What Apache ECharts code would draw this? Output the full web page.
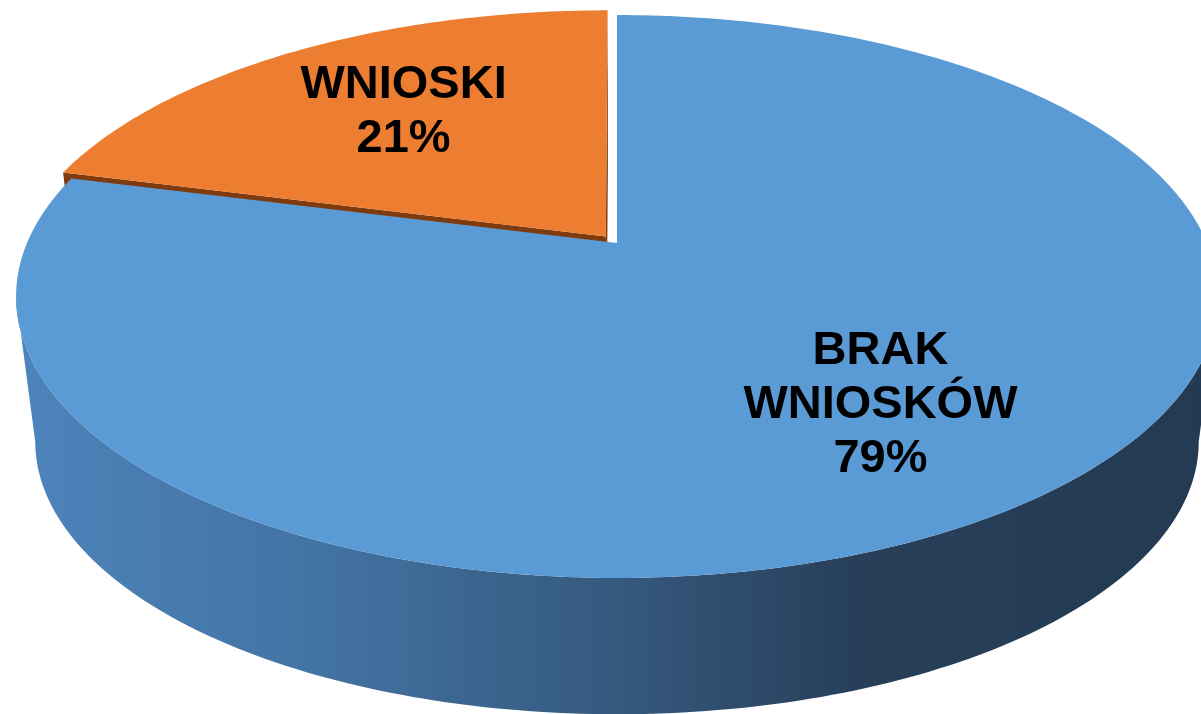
<!DOCTYPE html>
<html>
<head>
<meta charset="utf-8">
<script src="https://cdn.jsdelivr.net/npm/echarts@6/dist/echarts.min.js"></script>
<style>
  html, body { margin: 0; padding: 0; background: #fff; }
  #chart { width: 1201px; height: 714px; }
</style>
</head>
<body>
<div id="chart"></div>
<script>
// dane wykresu
const categories = ['BRAK WNIOSKÓW', 'WNIOSKI'];
const values = [79, 21];
const explode = [0, 0.031];

const topColors = ['#5b9bd5', '#ed7d31'];
const faceColors = ['#2f5378', '#7f3b0e'];
const sideStops = [
  [[0, '#4d84bb'], [0.25, '#4373a3'], [0.5, '#35597e'], [0.7, '#273f59'], [1, '#233a52']],
  [[0, '#c0622a'], [1, '#7f3b0e']],
];
// przesunięcie etykiet w pikselach
const labelShift = [[3, 8], [10, 1]];

// widok 3D (perspektywa jak w Excelu)
const KX = 590, KY = 271.3, C = 0.19;
const DS = 0.968, DROP = 147;
const START = 90;
const LABEL_R = 0.65;

const total = values.reduce((a, b) => a + b, 0);
const slices = [];
let ang = START;
values.forEach((v, i) => {
  const span = v / total * 360;
  const a0 = ang, a1 = ang - span;
  const mid = (a0 + a1) / 2 * Math.PI / 180;
  slices.push({ a0, a1, mid, ox: explode[i] * Math.cos(mid), oy: explode[i] * Math.sin(mid) });
  ang = a1;
});

const project = (X, S, bottom) => {
  const d = 1 + C * S;
  let x = KX * X / d, y = KY * S / d;
  if (bottom) { x *= DS; y = y * DS - DROP; }
  return [x, y];
};

const renderItem = (params, api) => {
  const i = params.dataIndex;
  const sl = slices[i];
  const pt = (deg, r, bottom) => {
    const t = deg * Math.PI / 180;
    return api.coord(project(sl.ox + r * Math.cos(t), sl.oy + r * Math.sin(t), bottom));
  };
  const arc = [];
  for (let a = sl.a0; a > sl.a1; a -= 1) arc.push(a);
  arc.push(sl.a1);

  const children = [];

  // boki przekroju
  [[sl.a0, sl.a0 + 90], [sl.a1, sl.a1 - 90]].forEach(([a, n]) => {
    const nt = n * Math.PI / 180;
    const dot = -sl.ox * Math.cos(nt) + (-1 / C - sl.oy) * Math.sin(nt);
    if (dot > 0.001) {
      children.push({
        type: 'polygon', z2: 1,
        shape: { points: [pt(0, 0, false), pt(a, 1, false), pt(a, 1, true), pt(0, 0, true)] },
        style: { fill: faceColors[i] },
      });
    }
  });

  // zewnętrzna ścianka
  const vis = arc.filter((a) => {
    const t = a * Math.PI / 180;
    return -sl.ox * Math.cos(t) - sl.oy * Math.sin(t) - 1 - Math.sin(t) / C > 0;
  });
  if (vis.length > 1) {
    const pts = vis.map((a) => pt(a, 1, false)).concat(vis.slice().reverse().map((a) => pt(a, 1, true)));
    children.push({
      type: 'polygon', z2: 1,
      shape: { points: pts },
      style: {
        fill: {
          type: 'linear', x: 0, y: 0, x2: 1, y2: 0,
          colorStops: sideStops[i].map(([o, c]) => ({ offset: o, color: c })),
        },
      },
    });
  }

  // wierzch
  children.push({
    type: 'polygon', z2: 2,
    shape: { points: [pt(0, 0, false)].concat(arc.map((a) => pt(a, 1, false))) },
    style: { fill: topColors[i] },
  });

  // etykieta
  const pos = pt(sl.mid * 180 / Math.PI, LABEL_R, false);
  const pct = Math.round(api.value(1) / total * 100);
  children.push({
    type: 'text', z2: 3,
    x: pos[0] + labelShift[i][0], y: pos[1] + labelShift[i][1],
    style: {
      text: categories[i].split(' ').join('\n') + '\n' + pct + '%',
      fill: '#000',
      font: 'bold 47px "Liberation Sans", Arial, sans-serif',
      align: 'center',
      verticalAlign: 'middle',
      lineHeight: 54,
    },
  });

  return { type: 'group', children };
};

const chart = echarts.init(document.getElementById('chart'));
chart.setOption({
  animation: false,
  backgroundColor: '#fff',
  grid: { left: 0, right: 0, top: 0, bottom: 0 },
  xAxis: { type: 'value', min: -617, max: 584, show: false },
  yAxis: { type: 'value', min: -471, max: 243, show: false },
  series: [
    {
      type: 'custom',
      coordinateSystem: 'cartesian2d',
      clip: false,
      renderItem: renderItem,
      encode: { x: 0, y: 1 },
      data: values.map((v, i) => ({ name: categories[i], value: [i, v] })),
    },
  ],
});
</script>
</body>
</html>
